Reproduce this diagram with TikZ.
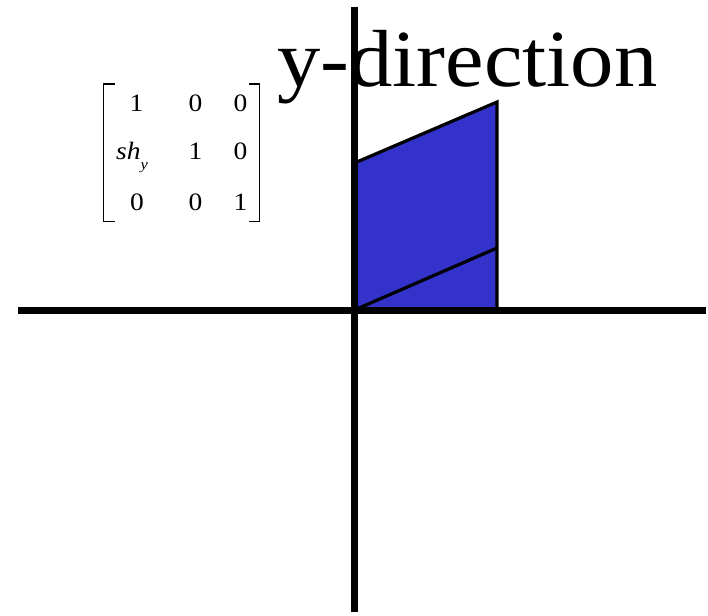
\documentclass[tikz,border=0pt]{standalone}
\usepackage{fontspec}
\setmainfont{Liberation Serif}
\begin{document}
\begin{tikzpicture}[x=1pt,y=-1pt,
  axis/.style={line width=7pt},
  edge/.style={line width=3.2pt, line join=miter},
  ent/.style={font=\fontsize{25}{25}\selectfont, anchor=base, inner sep=0pt, xscale=1.1},
  brk/.style={line width=1.8pt}]
\useasboundingbox (0,0) rectangle (708,615);
% shape
\coordinate (o) at (354.5,310);
\coordinate (br) at (497,310);
\coordinate (mr) at (497,248);
\coordinate (tr) at (497,102);
\coordinate (tl) at (354.5,163);
\fill[fill={rgb,255:red,51;green,51;blue,204}] (o) -- (br) -- (tr) -- (tl) -- cycle;
\draw[edge] (tl) -- (tr) -- (br);
\draw[edge] (o) -- (mr);
% axes
\coordinate (xl) at (18,310);
\coordinate (xr) at (706,310);
\coordinate (yt) at (354.5,7);
\coordinate (yb) at (354.5,612);
\draw[axis] (xl) -- (xr);
\draw[axis] (yt) -- (yb);
% title
\node[anchor=base west, inner sep=0pt, xscale=1.07, font=\fontsize{81}{81}\selectfont] (title) at (277,87) {y-direction};
% matrix
\node[ent] (m11) at (136.5,111.5) {1};
\node[ent] (m12) at (195.5,111.5) {0};
\node[ent] (m13) at (240.5,111.5) {0};
\node[ent, anchor=base west] (m21) at (116,159) {\textit{sh}\raisebox{-0.4em}{\fontsize{15}{15}\selectfont\textit{y}}};
\node[ent] (m22) at (195.5,159) {1};
\node[ent] (m23) at (240.5,159) {0};
\node[ent] (m31) at (137,210) {0};
\node[ent] (m32) at (195.5,210) {0};
\node[ent] (m33) at (240.5,210) {1};
\draw[brk] (115,84) -- (103.5,84) -- (103.5,221.5) -- (115,221.5);
\draw[brk] (249,84) -- (259.5,84) -- (259.5,221.5) -- (249,221.5);
\end{tikzpicture}
\end{document}
